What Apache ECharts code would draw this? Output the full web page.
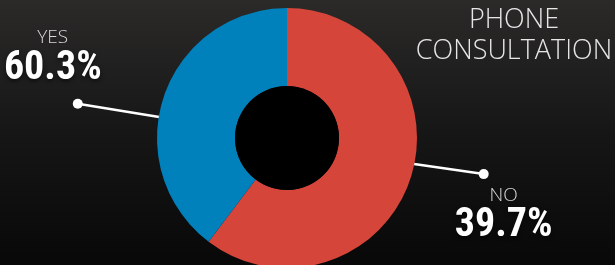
<!DOCTYPE html>
<html>
<head>
<meta charset="utf-8">
<script src="https://cdn.jsdelivr.net/npm/echarts@6/dist/echarts.min.js"></script>
<style>
  html, body { margin: 0; padding: 0; background: #000; }
  #chart { width: 615px; height: 265px; }
</style>
</head>
<body>
<div id="chart"></div>
<script>
// slices, clockwise from 12 o'clock
const categories = ["NO", "YES"];
const sliceValues = [60.3, 39.7];
// percentages as printed next to each slice
const labelPercents = ["39.7%", "60.3%"];
const chartTitle = ["PHONE", "CONSULTATION"];

const COLORS = ["#d6453a", "#0181bc"];
const CENTER = [287, 138];
const R_IN = 52;
const R_OUT = 130;

// label line: angle (deg, screen coords) at slice edge and at the dot, and dot radius
const lines = [
  { a1: 11.6, a2: 10.4, r2: 200, dx: 20, dy: 10, va: "top" },
  { a1: 189.3, a2: 189.3, r2: 212, dx: -25, dy: -15, va: "bottom" }
];

const polar = (a, r) => {
  const rad = (a * Math.PI) / 180;
  return [CENTER[0] + r * Math.cos(rad), CENTER[1] + r * Math.sin(rad)];
};

const myChart = echarts.init(document.getElementById("chart"));

const dots = lines.map((l) => {
  const p = polar(l.a2, l.r2);
  return {
    type: "circle",
    shape: { cx: p[0], cy: p[1], r: 5 },
    style: { fill: "#fff" },
    z: 100
  };
});

const option = {
  backgroundColor: {
    type: "linear",
    x: 0, y: 0, x2: 0, y2: 1,
    colorStops: [
      { offset: 0, color: "#2b2a29" },
      { offset: 0.5, color: "#161616" },
      { offset: 1, color: "#080808" }
    ]
  },
  title: {
    text: chartTitle.join("\n"),
    left: 509,
    top: 0,
    textAlign: "center",
    textStyle: {
      color: "#e6e6e6",
      fontFamily: "Open Sans",
      fontWeight: 300,
      fontSize: 27,
      lineHeight: 31
    }
  },
  graphic: dots,
  series: [
    {
      type: "pie",
      silent: true,
      center: CENTER,
      radius: [0, R_IN],
      label: { show: false },
      labelLine: { show: false },
      itemStyle: { color: "#000" },
      data: [1],
      z: 3
    },
    {
      type: "pie",
      center: CENTER,
      radius: [R_IN, R_OUT],
      startAngle: 90,
      clockwise: true,
      silent: true,
      itemStyle: { borderWidth: 0 },
      data: categories.map((name, i) => ({
        name,
        value: sliceValues[i],
        itemStyle: { color: COLORS[i] }
      })),
      label: {
        show: true,
        overflow: "none",
        formatter: (p) => "{n|" + p.name + "}\n{v|" + labelPercents[p.dataIndex] + "}",
        rich: {
          n: {
            color: "#d8d8d8",
            fontFamily: "Open Sans",
            fontWeight: 300,
            fontSize: 19,
            lineHeight: 22,
            align: "center"
          },
          v: {
            color: "#fff",
            fontFamily: "Roboto Condensed",
            fontWeight: "bold",
            fontSize: 40,
            lineHeight: 40,
            align: "center",
            textShadowColor: "rgba(0,0,0,0.6)",
            textShadowBlur: 4,
            textShadowOffsetY: 2
          }
        }
      },
      labelLine: {
        show: true,
        lineStyle: { color: "#fff", width: 2.5 }
      },
      labelLayout: (params) => {
        const l = lines[params.dataIndex];
        const p1 = polar(l.a1, R_OUT - 2);
        const p2 = polar(l.a2, l.r2);
        return {
          x: p2[0] + l.dx,
          y: p2[1] + l.dy,
          align: "center",
          verticalAlign: l.va,
          labelLinePoints: [p1, p2]
        };
      }
    }
  ]
};

myChart.setOption(option);
</script>
</body>
</html>
